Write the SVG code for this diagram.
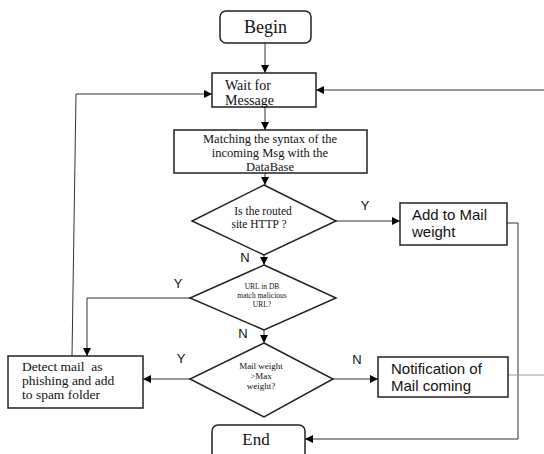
<svg xmlns="http://www.w3.org/2000/svg" width="544" height="454" viewBox="0 0 544 454">
<defs>
<marker id="ah" viewBox="0 0 10 10" refX="10" refY="5" markerWidth="8" markerHeight="8" markerUnits="userSpaceOnUse" orient="auto">
<path d="M0,0 L10,5 L0,10 z" fill="#000"/>
</marker>
</defs>
<style>
.box{fill:#fff;stroke:#222;stroke-width:1.5}
.c{fill:none;stroke:#333;stroke-width:1}
.ser{font-family:"Liberation Serif","Times New Roman",serif;fill:#111}
.san{font-family:"Liberation Sans",Arial,sans-serif;fill:#111}
</style>
<rect width="544" height="454" fill="#fff"/>
<g id="connectors">
<line class="c" x1="265" y1="43" x2="265" y2="73" marker-end="url(#ah)"/>
<line class="c" x1="265" y1="107" x2="265" y2="130" marker-end="url(#ah)"/>
<line class="c" x1="265" y1="173" x2="265" y2="185" marker-end="url(#ah)"/>
<polyline class="c" points="72,356 76,94 212,94" marker-end="url(#ah)"/>
<line class="c" x1="544" y1="90" x2="316" y2="90" marker-end="url(#ah)"/>
<line class="c" x1="336" y1="221" x2="400" y2="221" marker-end="url(#ah)"/>
<polyline class="c" points="507,223 518,223 518,439 305,439" marker-end="url(#ah)"/>
<line class="c" x1="264" y1="255" x2="264" y2="265" marker-end="url(#ah)"/>
<polyline class="c" points="190,298 87,298 87,356" marker-end="url(#ah)"/>
<line class="c" x1="264" y1="330" x2="264" y2="343" marker-end="url(#ah)"/>
<line class="c" x1="190" y1="379" x2="143" y2="379" marker-end="url(#ah)"/>
<line class="c" x1="333" y1="379" x2="378" y2="379" marker-end="url(#ah)"/>
<line x1="508" y1="375" x2="544" y2="375" stroke="#999" stroke-width="1"/>
<text class="san" x="365" y="210" font-size="13" text-anchor="middle">Y</text>
<text class="san" x="245" y="262" font-size="13" text-anchor="middle">N</text>
<text class="san" x="178" y="288" font-size="13" text-anchor="middle">Y</text>
<text class="san" x="243" y="338" font-size="13" text-anchor="middle">N</text>
<text class="san" x="181" y="363" font-size="13" text-anchor="middle">Y</text>
<text class="san" x="357" y="364" font-size="13" text-anchor="middle">N</text>
</g>
<g id="begin">
<rect class="box" x="220" y="11" width="91" height="32" rx="6"/>
<text class="ser" x="265.5" y="33" font-size="18" text-anchor="middle">Begin</text>
</g>
<g id="wait">
<rect class="box" x="212" y="73" width="104" height="34"/>
<text class="ser" x="225" y="90" font-size="14">Wait for</text>
<text class="ser" x="225" y="105" font-size="14">Message</text>
</g>
<g id="matching">
<rect class="box" x="174" y="130" width="193" height="43"/>
<text class="ser" x="270" y="143" font-size="12.5" text-anchor="middle">Matching the syntax of the</text>
<text class="ser" x="270" y="157" font-size="12.5" text-anchor="middle">incoming Msg with the</text>
<text class="ser" x="270" y="171" font-size="12.5" text-anchor="middle">DataBase</text>
</g>
<g id="http">
<polygon class="box" points="264,185 336,221 264,255 192,221"/>
<text class="ser" x="263" y="215" font-size="11.5" text-anchor="middle">Is the routed</text>
<text class="ser" x="259" y="228" font-size="11.5" text-anchor="middle">site HTTP ?</text>
</g>
<g id="addweight">
<rect class="box" x="400" y="203" width="107" height="42"/>
<text class="san" x="412" y="220" font-size="15">Add to Mail</text>
<text class="san" x="412" y="237" font-size="15">weight</text>
</g>
<g id="urlmatch">
<polygon class="box" points="264,265 336,298 264,330 190,298"/>
<text class="ser" x="262" y="289" font-size="7.5" text-anchor="middle">URL in DB</text>
<text class="ser" x="262" y="298" font-size="7.5" text-anchor="middle">match malicious</text>
<text class="ser" x="262" y="307" font-size="7.5" text-anchor="middle">URL?</text>
</g>
<g id="maxweight">
<polygon class="box" points="264,343 333,379 264,417 190,379"/>
<text class="ser" x="261" y="369" font-size="9" text-anchor="middle">Mail weight</text>
<text class="ser" x="261" y="379" font-size="9" text-anchor="middle">&gt;Max</text>
<text class="ser" x="261" y="389" font-size="9" text-anchor="middle">weight?</text>
</g>
<g id="detect">
<rect class="box" x="8" y="356" width="135" height="52"/>
<text class="ser" x="22" y="371" font-size="13.5" xml:space="preserve">Detect mail  as</text>
<text class="ser" x="22" y="385" font-size="13.5">phishing and add</text>
<text class="ser" x="22" y="399" font-size="13.5">to spam folder</text>
</g>
<g id="notification">
<rect class="box" x="378" y="357" width="130" height="40"/>
<text class="san" x="391" y="374" font-size="15">Notification of</text>
<text class="san" x="391" y="391" font-size="15">Mail coming</text>
</g>
<g id="end">
<rect class="box" x="212" y="425" width="93" height="40" rx="6"/>
<text class="ser" x="256" y="445" font-size="17" text-anchor="middle">End</text>
</g>
</svg>
